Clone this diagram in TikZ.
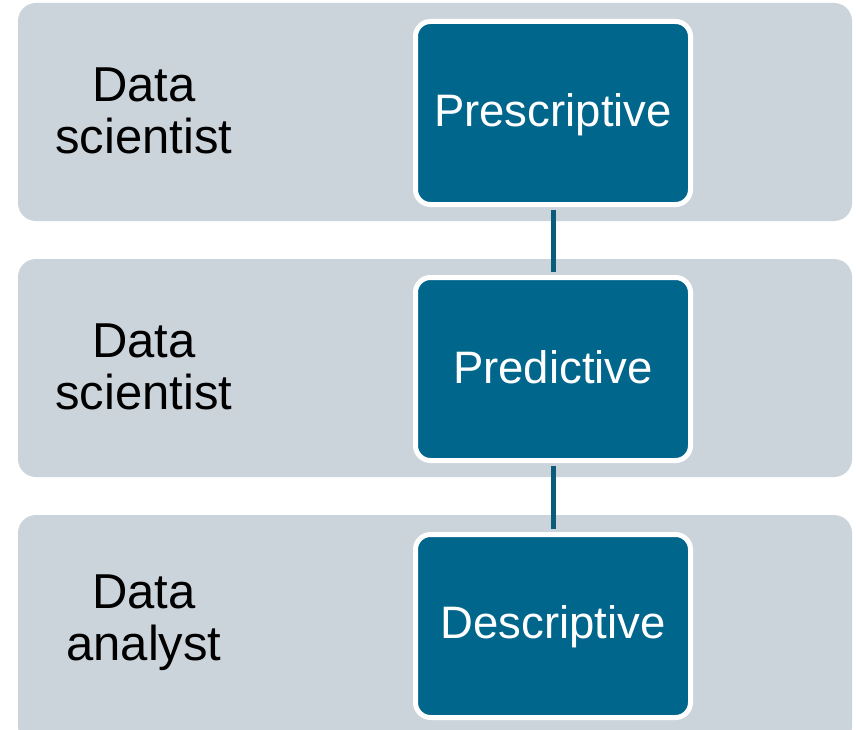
\documentclass[tikz,border=0pt]{standalone}
\usepackage{fontspec}
\setmainfont{Liberation Sans}
\definecolor{bandgrey}{HTML}{CCD4DB}
\definecolor{boxblue}{HTML}{00668C}
\definecolor{linkblue}{HTML}{0B5B7A}
\begin{document}
\begin{tikzpicture}[x=1pt,y=-1pt,
  band/.style={fill=bandgrey, draw=none, rounded corners=18pt},
  levelbox/.style={draw=white, line width=5pt, fill=boxblue, rounded corners=15pt,
    minimum width=275pt, minimum height=183pt, inner sep=0pt},
  leveltext/.style={text=white, inner sep=0pt, anchor=base,
    font=\fontsize{45.5}{50}\selectfont},
  rolelabel/.style={align=center, text=black, inner sep=0pt,
    font=\fontsize{49}{52}\selectfont},
  link/.style={draw=linkblue, line width=5pt}]
\useasboundingbox (0,0) rectangle (856,730);
\fill[white] (0,0) rectangle (856,730);
\path[band] (18,3) rectangle (852,221);
\path[band] (18,259) rectangle (852,477);
\path[band] (18,515) rectangle (852,745);
\node[levelbox] (pre) at (553,113) {};
\node[levelbox] (pred) at (553,369) {};
\node[levelbox] (desc) at (553,626) {};
\node[leveltext] (pret) at (553,127) {Prescriptive};
\node[leveltext] (predt) at (553,383) {Predictive};
\node[leveltext] (desct) at (553,638) {Descriptive};
\node[rolelabel] (r1) at (144,111) {Data\\scientist};
\node[rolelabel] (r2) at (144,367) {Data\\scientist};
\node[rolelabel] (r3) at (144,623) {Data\\analyst};
\draw[link] ([yshift=-3pt]pre.south) -- ([yshift=3pt]pred.north);
\draw[link] ([yshift=-3pt]pred.south) -- ([yshift=3pt]desc.north);
\end{tikzpicture}
\end{document}
